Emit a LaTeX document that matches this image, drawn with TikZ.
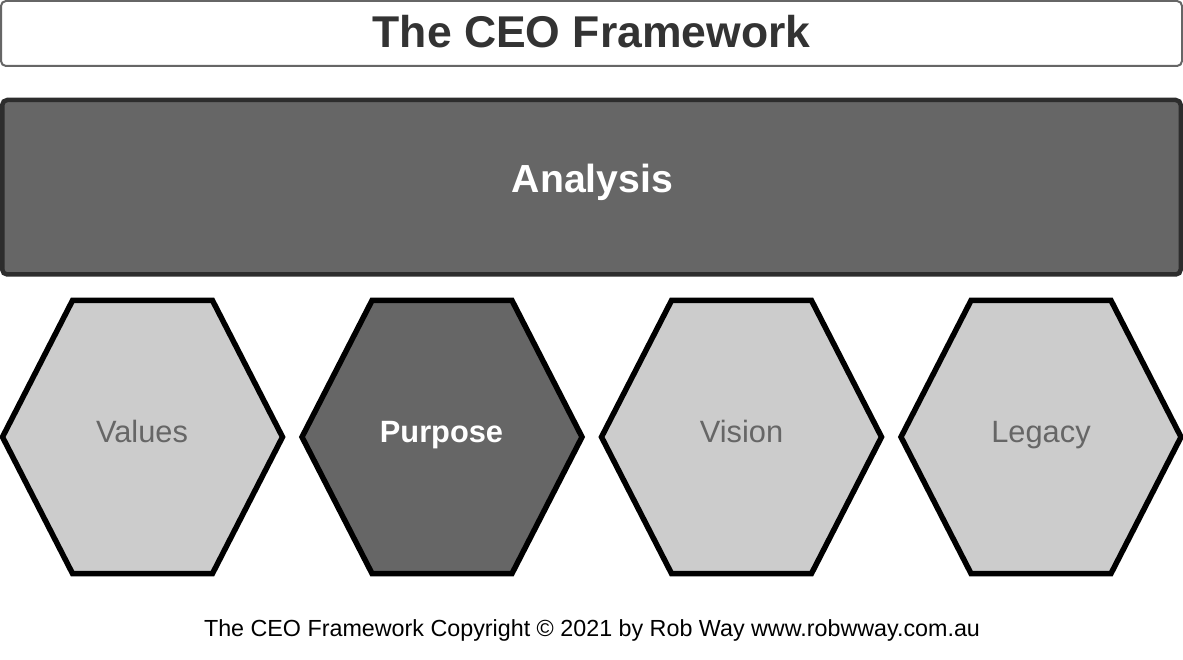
\documentclass[tikz,border=0pt]{standalone}
\usepackage{fontspec}
\setmainfont{Liberation Sans}
\definecolor{titlegray}{HTML}{333333}
\definecolor{boxborder}{HTML}{666666}
\definecolor{darkfill}{HTML}{666666}
\definecolor{darkborder}{HTML}{2D2D2D}
\definecolor{lightfill}{HTML}{CCCCCC}
\definecolor{lighttext}{HTML}{666666}
\newcommand\hexshape[2]{%
  \draw[#2] (#1-140,437) -- (#1-70,300.5) -- (#1+70,300.5) -- (#1+140,437) -- (#1+70,573.5) -- (#1-70,573.5) -- cycle;}
\begin{document}
\begin{tikzpicture}[x=1pt,y=-1pt,
  titlebox/.style={draw=boxborder,line width=2pt,fill=white,rounded corners=5pt},
  analysisbox/.style={draw=darkborder,line width=4.5pt,fill=darkfill,rounded corners=5pt},
  hexlight/.style={draw=black,line width=5.5pt,fill=lightfill},
  hexdark/.style={draw=black,line width=5.5pt,fill=darkfill},
  hexlighttext/.style={anchor=base,inner sep=0pt,text=lighttext,font=\fontsize{30.8}{33}\selectfont},
  hexdarktext/.style={anchor=base,inner sep=0pt,text=white,font=\fontsize{30.8}{33}\selectfont\bfseries},
  every node/.style={inner sep=0pt}]
\useasboundingbox (0,0) rectangle (1183,660);
\draw[titlebox] (1,1) rectangle (1182,66);
\node[anchor=base,text=titlegray,font=\fontsize{44.5}{48}\selectfont\bfseries] (title) at (591.5,48) {The CEO Framework};
\draw[analysisbox] (2.25,100) rectangle (1180.75,274.5);
\node[anchor=base,text=white,font=\fontsize{39.2}{42}\selectfont\bfseries] (analysis) at (592.5,193) {Analysis};
\hexshape{142.5}{hexlight}
\hexshape{442}{hexdark}
\hexshape{741.5}{hexlight}
\hexshape{1041}{hexlight}
\node[hexlighttext] (values) at (142,442) {Values};
\node[hexdarktext] (purpose) at (441.5,442) {Purpose};
\node[hexlighttext] (vision) at (741.5,442) {Vision};
\node[hexlighttext] (legacy) at (1041,442) {Legacy};
\node[anchor=base,text=black,font=\fontsize{23.3}{26}\selectfont] (footer) at (592,636) {The CEO Framework Copyright © 2021 by Rob Way www.robwway.com.au};
\end{tikzpicture}
\end{document}
